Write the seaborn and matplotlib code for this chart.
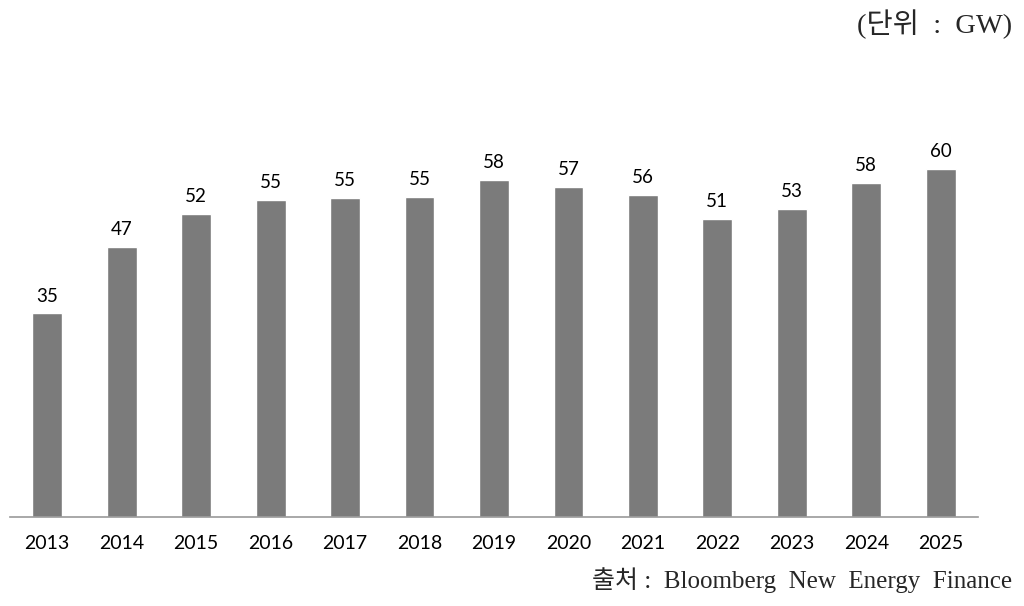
import matplotlib
matplotlib.use("Agg")
import matplotlib.pyplot as plt
import seaborn as sns
import pandas as pd

years = ["2013", "2014", "2015", "2016", "2017", "2018", "2019",
         "2020", "2021", "2022", "2023", "2024", "2025"]
values = [35.0, 46.4, 52.1, 54.5, 54.8, 55.0, 57.9, 56.7, 55.3, 51.2, 52.9, 57.4, 59.8]
labels = [35, 47, 52, 55, 55, 55, 58, 57, 56, 51, 53, 58, 60]

df = pd.DataFrame({"year": years, "value": values})

sns.set_style("white")
plt.rcParams['font.family'] = ['Lato', 'DejaVu Sans']

fig = plt.figure(figsize=(10.24, 6.06), dpi=100)
ax = fig.add_axes([10 / 1024, 1 - 517 / 606, 968 / 1024, 417 / 606])

sns.barplot(data=df, x="year", y="value", color="#7b7b7b", width=0.4,
            saturation=1, ax=ax)

ax.set_xlim(-0.5, 12.5)
ax.set_ylim(0, 417 / 5.82)
for i, (v, lab) in enumerate(zip(values, labels)):
    ax.text(i, v + 1.5, str(lab), ha="center", va="bottom", fontsize=13.5, color="#000000")

for s in ["top", "right", "left"]:
    ax.spines[s].set_visible(False)
ax.spines["bottom"].set_color("#999999")
ax.spines["bottom"].set_linewidth(1.2)
ax.set_yticks([])
ax.set_xlabel("")
ax.set_ylabel("")
ax.tick_params(axis="x", length=0, labelsize=14, pad=13, colors="#000000")

serif_kr = ['Liberation Serif', 'Noto Sans CJK KR']
fig.text(1012 / 1024, 1 - 24 / 606, "(단위  :  GW)", ha="right", va="center",
         fontsize=20.5, family=serif_kr)
fig.text(1012 / 1024, 1 - 580 / 606, "출처 :  Bloomberg  New  Energy  Finance", ha="right",
         va="center", fontsize=18, family=serif_kr)

fig.savefig("out.png", dpi=100)
